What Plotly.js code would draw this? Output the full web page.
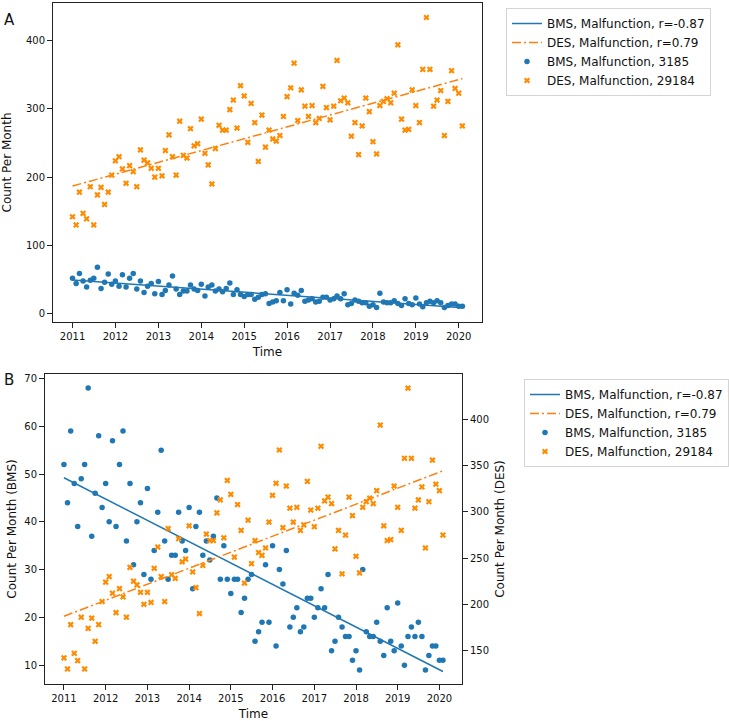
<!DOCTYPE html>
<html>
<head>
<meta charset="utf-8">
<script src="https://cdn.plot.ly/plotly-3.0.1.min.js"></script>
<style>
  html, body { margin: 0; padding: 0; background: #fff; }
  #chart { width: 729px; height: 721px; }
</style>
</head>
<body>
<div id="chart"></div>
<script>
// monthly counts, Jan 2011 .. Feb 2020
var startYear = 2011;

var bmsCounts = [52, 44, 59, 48, 39, 49, 52, 68, 37, 46, 58, 43,
  48, 40, 57, 39, 52, 59, 36, 48, 31, 40, 44, 29,
  47, 28, 34, 42, 55, 36, 28, 33, 33, 42, 36, 34,
  43, 26, 39, 42, 33, 36, 32, 37, 45, 28, 35, 28,
  25, 28, 28, 21, 24, 28, 29, 15, 17, 19, 31, 19,
  35, 14, 30, 27, 34, 18, 20, 22, 17, 18, 24, 24,
  20, 22, 26, 22, 29, 13, 15, 20, 18, 16, 16, 11,
  13, 9, 30, 17, 16, 16, 19, 15, 12, 22, 15, 13,
  23, 14, 10, 16, 18, 16, 19, 16, 9, 12, 14, 14,
  11, 11];

var desCounts = [142, 130, 178, 147, 139, 186, 130, 174, 185, 160, 178, 203,
  224, 230, 212, 191, 217, 208, 186, 240, 225, 221, 213, 200,
  213, 202, 239, 262, 230, 203, 282, 232, 228, 271, 246, 249,
  285, 235, 218, 190, 242, 276, 269, 269, 299, 313, 272, 334,
  319, 251, 308, 280, 223, 291, 244, 269, 256, 253, 261, 289,
  318, 331, 367, 283, 328, 304, 289, 305, 280, 286, 333, 302,
  284, 304, 371, 312, 316, 309, 260, 280, 233, 275, 316, 296,
  252, 234, 305, 311, 315, 309, 323, 394, 285, 269, 270, 328,
  305, 280, 358, 434, 358, 304, 313, 327, 261, 311, 356, 330,
  323, 275];

var legendNames = ['BMS, Malfunction, r=-0.87', 'DES, Malfunction, r=0.79',
  'BMS, Malfunction, 3185', 'DES, Malfunction, 29184'];

// month dates
var months = [];
for (var i = 0; i < bmsCounts.length; i++) {
  var yr = startYear + Math.floor(i / 12);
  var mo = (i % 12) + 1;
  months.push(yr + '-' + (mo < 10 ? '0' : '') + mo + '-01');
}

// least squares fit, drawn from first to last month
function fitLine(vals) {
  var n = vals.length, sx = 0, sy = 0, sxx = 0, sxy = 0;
  for (var k = 0; k < n; k++) {
    sx += k; sy += vals[k]; sxx += k * k; sxy += k * vals[k];
  }
  var b = (n * sxy - sx * sy) / (n * sxx - sx * sx);
  var a = (sy - b * sx) / n;
  return [a, a + b * (n - 1)];
}
var bmsFit = fitLine(bmsCounts);
var desFit = fitLine(desCounts);
var fitX = [months[0], months[months.length - 1]];

var blue = '#1f77b4', orange = '#ff7f0e', orangeMk = '#ff8c00';

function traces(xa, yBms, yDes, leg) {
  return [
    {x: fitX, y: bmsFit, xaxis: xa, yaxis: yBms, legend: leg, type: 'scatter', mode: 'lines',
      name: legendNames[0], legendrank: 1, line: {color: blue, width: 1.5}},
    {x: months, y: bmsCounts, xaxis: xa, yaxis: yBms, legend: leg, type: 'scatter', mode: 'markers',
      name: legendNames[2], legendrank: 3, marker: {color: blue, size: 5.5, symbol: 'circle'}},
    {x: fitX, y: desFit, xaxis: xa, yaxis: yDes, legend: leg, type: 'scatter', mode: 'lines',
      name: legendNames[1], legendrank: 2, line: {color: orange, width: 1.5, dash: '9px,3px,2px,3px'}},
    {x: months, y: desCounts, xaxis: xa, yaxis: yDes, legend: leg, type: 'scatter', mode: 'markers',
      name: legendNames[3], legendrank: 4, marker: {color: orangeMk, size: 5.5, symbol: 'x'}}
  ];
}

var data = traces('x', 'y', 'y', 'legend').concat(traces('x2', 'y2', 'y3', 'legend2'));

var W = 729, H = 721;
var TICK = 10, LBL = 12;
var axisBase = {
  showline: true, linecolor: '#222', linewidth: 1,
  ticks: 'outside', ticklen: 5, tickwidth: 1, tickcolor: '#222',
  showgrid: false, zeroline: false,
  tickfont: {size: TICK, color: '#111'}
};
function ax(extra) { return Object.assign({}, axisBase, extra); }

var xRange = ['2010-07-19', '2020-07-17'];

var legendBase = {
  bgcolor: '#fff', bordercolor: '#d4d4d4', borderwidth: 1,
  font: {size: LBL, color: '#111'}, xanchor: 'left', yanchor: 'top',
  tracegroupgap: 0, itemwidth: 30
};

var layout = {
  width: W, height: H,
  margin: {l: 0, r: 0, t: 0, b: 0},
  paper_bgcolor: '#fff', plot_bgcolor: '#fff',
  font: {family: 'DejaVu Sans', size: TICK, color: '#111'},
  showlegend: true,
  // panel A
  xaxis: ax({domain: [53 / W, 482 / W], anchor: 'y', type: 'date', range: xRange,
    tick0: '2011-01-01', dtick: 'M12', tickformat: '%Y', mirror: true,
    title: {text: 'Time', standoff: 6, font: {size: LBL}}}),
  yaxis: ax({domain: [1 - 322 / H, 1 - 3 / H], anchor: 'x', range: [-12.25, 455.25],
    tick0: 0, dtick: 100, mirror: true,
    title: {text: 'Count Per Month', standoff: 11, font: {size: LBL}}}),
  // panel B
  xaxis2: ax({domain: [45 / W, 462 / W], anchor: 'y2', type: 'date', range: xRange,
    tick0: '2011-01-01', dtick: 'M12', tickformat: '%Y', mirror: true,
    title: {text: 'Time', standoff: 6, font: {size: LBL}}}),
  yaxis2: ax({domain: [1 - 684 / H, 1 - 374 / H], anchor: 'x2', range: [6.05, 70.95],
    tick0: 0, dtick: 10,
    title: {text: 'Count Per Month (BMS)', standoff: 5, font: {size: LBL}}}),
  yaxis3: ax({overlaying: 'y2', anchor: 'x2', side: 'right', range: [113.75, 449.25],
    tick0: 0, dtick: 50,
    title: {text: 'Count Per Month (DES)', standoff: 7, font: {size: LBL}}}),
  legend: Object.assign({}, legendBase, {x: 506 / W, y: 1 - 8 / H}),
  legend2: Object.assign({}, legendBase, {x: 524 / W, y: 1 - 379 / H}),
  annotations: [
    {text: 'A', xref: 'paper', yref: 'paper', x: 2 / W, y: 1 - 20 / H,
      xanchor: 'left', yanchor: 'middle',
      showarrow: false, font: {size: 15, color: '#111'}},
    {text: 'B', xref: 'paper', yref: 'paper', x: 2 / W, y: 1 - 380 / H,
      xanchor: 'left', yanchor: 'middle',
      showarrow: false, font: {size: 15, color: '#111'}}
  ]
};

Plotly.newPlot('chart', data, layout, {displayModeBar: false, staticPlot: true});
</script>
</body>
</html>
